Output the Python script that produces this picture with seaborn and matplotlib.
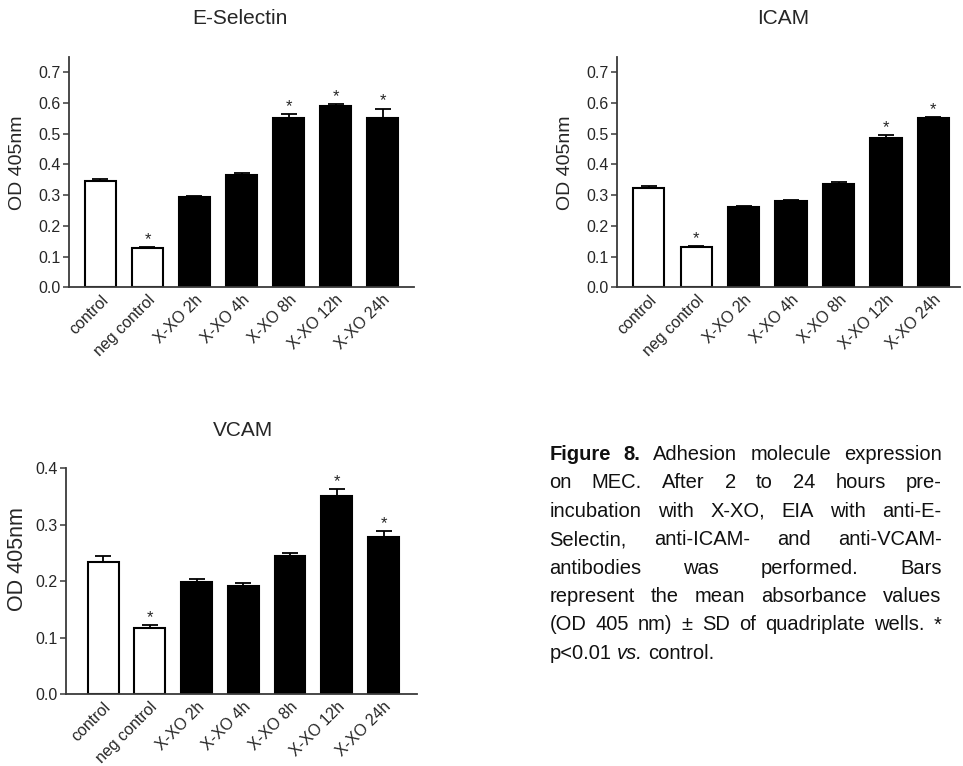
import numpy as np
import pandas as pd
import matplotlib
matplotlib.use("Agg")
import matplotlib.pyplot as plt
import seaborn as sns

# -----------------------------------------------------------
# DATA
# -----------------------------------------------------------

CATEGORIES = ["control", "neg control", "X-XO 2h", "X-XO 4h",
              "X-XO 8h", "X-XO 12h", "X-XO 24h"]

ESEL_MEAN = [0.347, 0.129, 0.294, 0.365, 0.551, 0.590, 0.552]
ESEL_SD   = [0.006, 0.003, 0.003, 0.006, 0.012, 0.007, 0.030]
ESEL_STAR = [False, True, False, False, True, True, True]

ICAM_MEAN = [0.322, 0.131, 0.262, 0.281, 0.335, 0.486, 0.550]
ICAM_SD   = [0.007, 0.004, 0.002, 0.003, 0.009, 0.009, 0.004]
ICAM_STAR = [False, True, False, False, False, True, True]

VCAM_MEAN = [0.234, 0.118, 0.198, 0.191, 0.244, 0.351, 0.278]
VCAM_SD   = [0.011, 0.005, 0.005, 0.006, 0.006, 0.011, 0.010]
VCAM_STAR = [False, True, False, False, False, True, True]

BAR_COLORS = ["white", "white", "black", "black", "black", "black", "black"]

CAPTION = [
    [("Figure", "bold", "normal"), ("8.", "bold", "normal"), ("Adhesion", "normal", "normal"),
     ("molecule", "normal", "normal"), ("expression", "normal", "normal")],
    "on MEC. After 2 to 24 hours pre-",
    "incubation with X-XO, EIA with anti-E-",
    "Selectin, anti-ICAM- and anti-VCAM-",
    "antibodies was performed. Bars",
    "represent the mean absorbance values",
    "(OD 405 nm) \u00b1 SD of quadriplate wells. *",
    [("p<0.01", "normal", "normal"), ("vs.", "normal", "italic"), ("control.", "normal", "normal")],
]

# -----------------------------------------------------------
# STYLE
# -----------------------------------------------------------

sns.set_theme(style="ticks")
plt.rcParams["font.family"] = ["Liberation Sans", "DejaVu Sans"]

W, H = 963, 766
fig = plt.figure(figsize=(W / 100, H / 100), dpi=100)
fig.patch.set_facecolor("white")

AXIS_COLOR = "#3a3a3a"


def px_rect(left, right, top, bottom):
    return [left / W, 1 - bottom / H, (right - left) / W, (bottom - top) / H]


def draw_panel(rect, title, title_xy, ylabel_xy, ylabel_fs,
               means, sds, stars, ylim, yticks, xlim):
    ax = fig.add_axes(rect)
    df = pd.DataFrame({"group": CATEGORIES, "od": means})
    sns.barplot(data=df, x="group", y="od", hue="group",
                palette=dict(zip(CATEGORIES, BAR_COLORS)),
                width=0.66, edgecolor="black", linewidth=1.5,
                errorbar=None, legend=False, ax=ax)

    xs = np.arange(len(means))
    ax.errorbar(xs, means, yerr=[np.zeros(len(sds)), sds], fmt="none",
                ecolor="black", elinewidth=1.3, capsize=6, capthick=1.3,
                zorder=5)

    for x, m, s, star in zip(xs, means, sds, stars):
        if star:
            ax.annotate("*", (x, m + s), xytext=(0, 0),
                        textcoords="offset points", ha="center",
                        va="bottom", fontsize=12)

    ax.set_ylim(*ylim)
    ax.set_xlim(*xlim)
    ax.set_yticks(yticks)
    ax.set_yticklabels([f"{t:.1f}" for t in yticks], fontsize=11.5)
    ax.set_xticks(xs)
    ax.set_xticklabels(CATEGORIES, rotation=45, ha="right",
                       rotation_mode="anchor", fontsize=11.5)
    ax.set_xlabel("")
    ax.set_ylabel("")

    ax.tick_params(axis="x", length=0, pad=3.5)
    ax.tick_params(axis="y", length=4, width=1.1, color=AXIS_COLOR, pad=2)
    for side in ["top", "right"]:
        ax.spines[side].set_visible(False)
    for side in ["left", "bottom"]:
        ax.spines[side].set_color(AXIS_COLOR)
        ax.spines[side].set_linewidth(1.3)

    fig.text(title_xy[0] / W, 1 - title_xy[1] / H, title,
             ha="center", va="center", fontsize=15)
    fig.text(ylabel_xy[0] / W, 1 - ylabel_xy[1] / H, "OD 405nm",
             ha="center", va="center", rotation=90, fontsize=ylabel_fs)
    return ax


draw_panel(px_rect(69, 414, 57, 287.3), "E-Selectin", (240, 18), (17, 163), 14,
           ESEL_MEAN, ESEL_SD, ESEL_STAR, (0, 0.75),
           [0.0, 0.1, 0.2, 0.3, 0.4, 0.5, 0.6, 0.7], (-0.67, 6.67))

draw_panel(px_rect(617, 960, 57, 287.3), "ICAM", (783, 18), (565, 163), 14,
           ICAM_MEAN, ICAM_SD, ICAM_STAR, (0, 0.75),
           [0.0, 0.1, 0.2, 0.3, 0.4, 0.5, 0.6, 0.7], (-0.67, 6.56))

draw_panel(px_rect(65.7, 416.7, 468, 694.3), "VCAM", (243, 431), (18, 559), 15.5,
           VCAM_MEAN, VCAM_SD, VCAM_STAR, (0, 0.4),
           [0.0, 0.1, 0.2, 0.3, 0.4], (-0.8, 6.71))

# -----------------------------------------------------------
# CAPTION (justified block)
# -----------------------------------------------------------

CAP_LEFT, CAP_RIGHT = 549.3, 941.7
CAP_FS = 14.5
CAP_BASE = 460
CAP_STEP = 28.4

renderer = fig.canvas.get_renderer()
for i, line in enumerate(CAPTION):
    if isinstance(line, str):
        words = [(w, "normal", "normal") for w in line.split(" ")]
    else:
        words = line
    y = 1 - (CAP_BASE + i * CAP_STEP) / H
    texts = [fig.text(0, y, w, fontsize=CAP_FS, fontweight=wt, fontstyle=st,
                      ha="left", va="baseline", color="#111111")
             for w, wt, st in words]
    widths = [t.get_window_extent(renderer).width for t in texts]
    last = i == len(CAPTION) - 1
    if last:
        gap = 0.278 * CAP_FS * 100 / 72
    else:
        gap = (CAP_RIGHT - CAP_LEFT - sum(widths)) / (len(texts) - 1)
    x = CAP_LEFT
    for t, wd in zip(texts, widths):
        t.set_x(x / W)
        x += wd + gap

fig.savefig("out.png", dpi=100, facecolor="white")
